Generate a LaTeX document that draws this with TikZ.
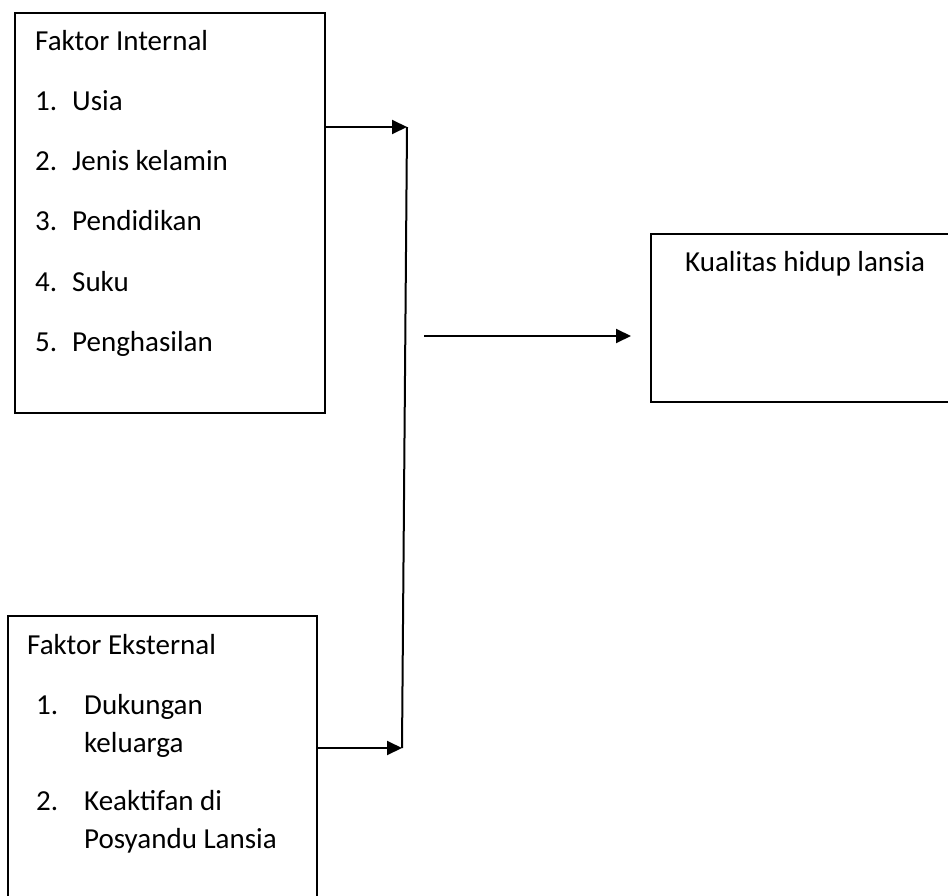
\documentclass[tikz,border=0pt]{standalone}
\usepackage{fontspec}
\setmainfont{Carlito}
\usetikzlibrary{arrows.meta}
\begin{document}
\begin{tikzpicture}[x=1pt,y=-1pt,
  box/.style={draw=black,line width=1.6pt,rectangle,inner sep=0pt,anchor=north west},
  txt/.style={anchor=base west,inner sep=0pt,font=\fontsize{29}{34}\selectfont},
  conn/.style={line width=2pt,-{Triangle[length=15pt,width=14pt]}},
  link/.style={line width=2pt}]
\useasboundingbox (0,0) rectangle (948,896);
\clip (0,0) rectangle (948,896);
% boxes
\node[box,minimum width=310pt,minimum height=400pt] (internal) at (14,12) {};
\node[box,minimum width=309pt,minimum height=300pt] (external) at (7,615) {};
\node[box,minimum width=310pt,minimum height=168pt] (kualitas) at (650,233) {};
% internal texts
\node[txt] (ti) at (35,51) {Faktor Internal};
\node[txt] (n1) at (35,111) {1.};
\node[txt] (i1) at (72,111) {Usia};
\node[txt] (n2) at (35,171) {2.};
\node[txt] (i2) at (72,171) {Jenis kelamin};
\node[txt] (n3) at (35,231) {3.};
\node[txt] (i3) at (72,231) {Pendidikan};
\node[txt] (n4) at (35,291) {4.};
\node[txt] (i4) at (72,291) {Suku};
\node[txt] (n5) at (35,351) {5.};
\node[txt] (i5) at (72,351) {Penghasilan};
% external texts
\node[txt] (te) at (27,654) {Faktor Eksternal};
\node[txt] (m1) at (36,714) {1.};
\node[txt] (e1) at (84,714) {Dukungan};
\node[txt] (e1b) at (84,752) {keluarga};
\node[txt] (m2) at (36,810) {2.};
\node[txt] (e2) at (84,810) {Keaktifan di};
\node[txt] (e2b) at (84,848) {Posyandu Lansia};
% result text
\node[txt] (tk) at (685,272) {Kualitas hidup lansia};
% connectors
\coordinate (j1) at (407,127);
\coordinate (j2) at (402,748);
\coordinate (ms) at (424,336);
\coordinate (me) at (631,336);
\draw[conn] (internal.east |- j1) -- (j1);
\draw[conn] (external.east |- j2) -- (j2);
\draw[link] (j1) -- (j2);
\draw[conn] (ms) -- (me);
\end{tikzpicture}
\end{document}
